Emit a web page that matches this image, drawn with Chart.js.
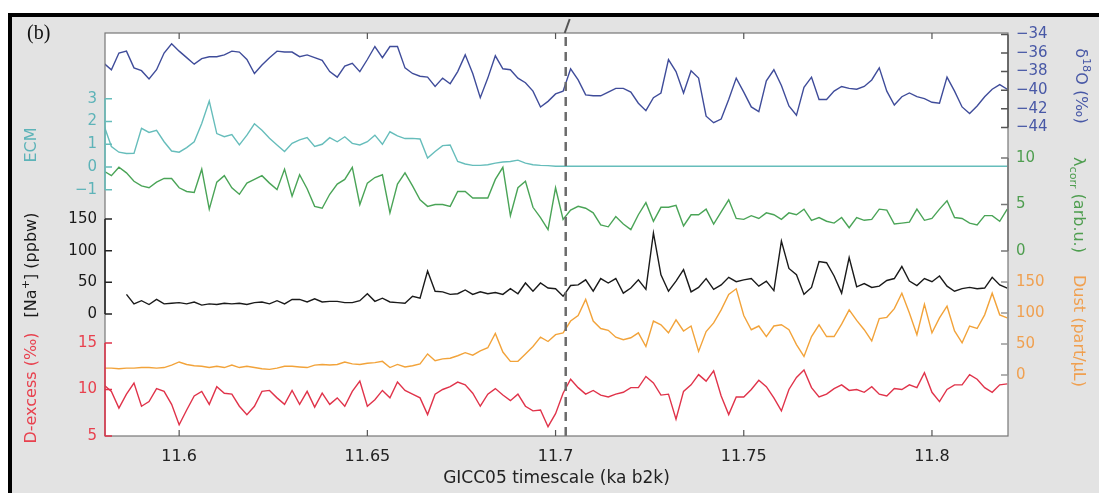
<!DOCTYPE html>
<html>
<head>
<meta charset="utf-8">
<script src="https://cdn.jsdelivr.net/npm/chart.js@4.4.1/dist/chart.umd.min.js"></script>
<style>
  html, body { margin: 0; padding: 0; background: #fff; }
  canvas { display: block; }
</style>
</head>
<body>
<canvas id="coreChart" width="1099" height="493"></canvas>
<script>
// time grid (ka b2k), every series sampled on the same spacing
const startTime = 11.58;
const timeStep = 0.002;
const onsetTime = 11.7027;

const xTickValues = [11.6, 11.65, 11.7, 11.75, 11.8];
const xTickLabels = ['11.6', '11.65', '11.7', '11.75', '11.8'];

const d18oTicks = [-34, -36, -38, -40, -42, -44];
const ecmTicks = [3, 2, 1, 0, -1];
const lambdaTicks = [10, 5, 0];
const naTicks = [150, 100, 50, 0];
const dustTicks = [150, 100, 50, 0];
const dexTicks = [15, 10, 5];

const d18oValues = [
  -37.1, -37.8, -36.0, -35.8, -37.6, -37.9, -38.8, -37.8, -36.0, -35.0, -35.8, -36.5, -37.2, -36.6, -36.4, -36.4, -36.2, -35.8, -35.9, -36.7, -38.2,
  -37.3, -36.5, -35.8, -35.9, -35.9, -36.4, -36.2, -36.5, -36.8, -38.0, -38.6, -37.4, -37.1, -38.0, -36.7, -35.3, -36.5, -35.3, -35.3, -37.6,
  -38.2, -38.5, -38.6, -39.6, -38.7, -39.3, -38.0, -36.2, -38.2, -40.8, -38.7, -36.3, -37.7, -37.8, -38.7, -39.2, -40.1, -41.8, -41.2, -40.4,
  -40.1, -37.7, -38.9, -40.5, -40.6, -40.6, -40.2, -39.8, -39.8, -40.2, -41.4, -42.2, -40.8, -40.3, -36.7, -38.0, -40.3, -37.9, -38.7, -42.8,
  -43.5, -43.1, -41.0, -38.7, -40.2, -41.8, -42.3, -39.0, -37.8, -39.5, -41.7, -42.7, -39.7, -38.6, -41.0, -41.0, -40.1, -39.6, -39.8, -39.9,
  -39.6, -38.9, -37.6, -40.1, -41.6, -40.7, -40.3, -40.7, -40.9, -41.3, -41.4, -38.6, -40.1, -41.8, -42.5, -41.7, -40.7, -39.9, -39.4, -39.9
];

const ecmValues = [
  1.84, 0.9, 0.65, 0.59, 0.6, 1.7, 1.52, 1.61, 1.11, 0.7, 0.65, 0.85, 1.11, 1.91, 2.9, 1.47, 1.33, 1.43, 0.97, 1.4, 1.9,
  1.62, 1.26, 0.97, 0.68, 1.04, 1.19, 1.29, 0.9, 1.0, 1.29, 1.11, 1.33, 1.04, 0.97, 1.11, 1.4, 1.0, 1.55, 1.37, 1.25,
  1.26, 1.23, 0.39, 0.68, 0.94, 0.97, 0.24, 0.13, 0.07, 0.07, 0.1, 0.17, 0.22, 0.24, 0.3, 0.17, 0.1, 0.07, 0.06, 0.03,
  0.03, 0.03, 0.03, 0.03, 0.03, 0.03, 0.03, 0.03, 0.03, 0.03, 0.03, 0.03, 0.03, 0.03, 0.03, 0.03, 0.03, 0.03, 0.03, 0.03,
  0.03, 0.03, 0.03, 0.03, 0.03, 0.03, 0.03, 0.03, 0.03, 0.03, 0.03, 0.03, 0.03, 0.03, 0.03, 0.03, 0.03, 0.03, 0.03, 0.03,
  0.03, 0.03, 0.03, 0.03, 0.03, 0.03, 0.03, 0.03, 0.03, 0.03, 0.03, 0.03, 0.03, 0.03, 0.03, 0.03, 0.03, 0.03, 0.03, 0.03
];

const lambdaValues = [
  8.6, 8.1, 9.0, 8.4, 7.5, 7.0, 6.8, 7.4, 7.8, 7.8, 6.8, 6.4, 6.3, 8.8, 4.5, 7.4, 8.1, 6.8, 6.1, 7.3, 7.7,
  8.1, 7.3, 6.6, 8.8, 5.9, 8.2, 6.7, 4.8, 4.6, 6.1, 7.2, 7.7, 9.0, 5.0, 7.3, 7.9, 8.2, 4.1, 7.2, 8.4,
  7.0, 5.5, 4.8, 5.0, 5.0, 4.8, 6.4, 6.4, 5.7, 5.7, 5.7, 7.7, 9.0, 3.8, 6.8, 7.5, 4.7, 3.6, 2.3, 6.8,
  3.4, 4.4, 4.8, 4.6, 4.1, 2.8, 2.6, 3.7, 2.9, 2.3, 3.9, 5.2, 3.2, 4.7, 4.7, 4.9, 2.7, 3.9, 3.9, 4.5,
  2.9, 4.2, 5.5, 3.5, 3.4, 3.8, 3.5, 4.1, 3.9, 3.4, 4.1, 3.9, 4.5, 3.3, 3.6, 3.2, 3.0, 3.6, 2.5, 3.6,
  3.3, 3.4, 4.5, 4.4, 2.9, 3.0, 3.1, 4.5, 3.3, 3.5, 4.5, 5.4, 3.6, 3.5, 3.0, 2.8, 3.8, 3.8, 3.2, 4.5
];

const naValues = [
  null, null, null, 31, 16, 21, 15, 23, 16, 17, 18, 16, 19, 14, 16, 15, 17, 16, 17, 15, 18,
  19, 16, 21, 16, 23, 23, 19, 24, 19, 20, 20, 18, 18, 21, 32, 20, 25, 19, 18, 17,
  28, 25, 68, 36, 35, 31, 32, 38, 31, 35, 32, 34, 31, 40, 32, 49, 36, 49, 41, 40,
  28, 45, 46, 54, 36, 56, 49, 56, 33, 41, 54, 39, 128, 62, 36, 52, 70, 35, 42, 56,
  39, 46, 58, 51, 54, 56, 44, 52, 37, 115, 72, 62, 31, 42, 83, 81, 60, 33, 89, 43,
  48, 42, 44, 53, 56, 75, 52, 45, 56, 51, 60, 44, 36, 40, 42, 40, 41, 58, 46, 41
];

const dustValues = [
  11, 11, 10, 11, 11, 12, 12, 11, 12, 16, 21, 17, 15, 14, 12, 14, 12, 16, 12, 14, 12,
  10, 9, 11, 14, 14, 13, 12, 16, 17, 16, 17, 21, 18, 17, 19, 20, 22, 12, 17, 13,
  15, 18, 34, 23, 26, 27, 31, 36, 32, 39, 44, 67, 37, 22, 22, 34, 46, 61, 54, 65,
  68, 87, 96, 122, 87, 75, 72, 61, 57, 60, 68, 46, 87, 81, 68, 89, 71, 79, 38, 70,
  84, 105, 130, 139, 96, 73, 79, 62, 79, 81, 73, 49, 30, 62, 81, 62, 62, 82, 105, 88,
  73, 55, 91, 93, 107, 132, 100, 65, 114, 68, 92, 111, 71, 52, 79, 75, 97, 132, 97, 92
];

const dexValues = [
  10.5, 9.8, 8.0, 9.5, 10.7, 8.2, 8.7, 10.1, 9.8, 8.4, 6.2, 7.8, 9.3, 9.8, 8.4, 10.3, 9.6, 9.5, 8.2, 7.3, 8.2,
  9.8, 9.9, 9.1, 8.4, 9.9, 8.4, 9.8, 8.1, 9.6, 8.4, 9.1, 8.2, 9.8, 10.9, 8.2, 8.9, 9.9, 9.1, 10.8, 9.9,
  9.5, 9.1, 7.3, 9.5, 10.0, 10.3, 10.8, 10.5, 9.6, 8.2, 9.5, 10.1, 9.4, 8.8, 9.5, 8.2, 7.7, 7.8, 6.0, 7.4,
  9.6, 11.1, 10.2, 9.5, 9.9, 9.4, 9.2, 9.5, 9.7, 10.2, 10.2, 11.4, 10.7, 9.4, 9.5, 6.8, 9.8, 10.5, 11.6, 10.9,
  12.0, 9.3, 7.3, 9.2, 9.2, 10.0, 11.0, 10.3, 9.1, 7.7, 10.0, 11.3, 12.1, 10.2, 9.2, 9.5, 10.1, 10.5, 9.9, 10.0,
  9.7, 10.3, 9.5, 9.3, 10.1, 10.0, 10.5, 10.2, 11.8, 9.7, 8.7, 10.0, 10.5, 10.5, 11.6, 11.1, 10.2, 9.7, 10.5, 10.6
];

const colors = {
  d18o: '#3f4c9a', ecm: '#66bdbb', lambda: '#4aa457', na: '#1a1a1a', dust: '#f2a33a', dex: '#e0334a'
};
const textColors = {
  d18o: '#4858a6', ecm: '#5db3b8', lambda: '#4f9e50', na: '#1a1a1a', dust: '#f0a050', dex: '#e8414e'
};

function toPoints(values) {
  return values.map((v, i) => ({ x: startTime + i * timeStep, y: v }));
}

function series(values, axis, color) {
  return {
    data: toPoints(values),
    yAxisID: axis,
    borderColor: color,
    borderWidth: 1.4,
    pointRadius: 0,
    tension: 0,
    fill: false
  };
}

function fmt(v) {
  return v < 0 ? '\u2212' + Math.abs(v) : String(v);
}

function drawRich(ctx, parts, x, y, rot, color) {
  const base = 16;
  ctx.save();
  ctx.translate(x, y);
  ctx.rotate(rot);
  ctx.fillStyle = color;
  ctx.textBaseline = 'middle';
  ctx.textAlign = 'left';
  let total = 0;
  const sized = parts.map(p => {
    const size = p.s ? base * 0.7 : base;
    ctx.font = size + 'px "DejaVu Sans"';
    const w = ctx.measureText(p.t).width;
    total += w;
    return { ...p, size, w };
  });
  let cx = -total / 2;
  sized.forEach(p => {
    ctx.font = p.size + 'px "DejaVu Sans"';
    const dy = p.s === 'sup' ? -base * 0.38 : p.s === 'sub' ? base * 0.3 : 0;
    ctx.fillText(p.t, cx, dy);
    cx += p.w;
  });
  ctx.restore();
}

function drawAxis(ctx, scale, ticks, x, dir, lineColor, labelColor) {
  const yA = scale.getPixelForValue(ticks[0]);
  const yB = scale.getPixelForValue(ticks[ticks.length - 1]);
  ctx.strokeStyle = lineColor;
  ctx.lineWidth = 1.5;
  ctx.beginPath();
  ctx.moveTo(x, yA);
  ctx.lineTo(x, yB);
  ticks.forEach(v => {
    const y = scale.getPixelForValue(v);
    ctx.moveTo(x, y);
    ctx.lineTo(x + dir * 7, y);
  });
  ctx.stroke();
  ctx.fillStyle = labelColor;
  ctx.font = '15px "DejaVu Sans"';
  ctx.textBaseline = 'middle';
  ctx.textAlign = dir > 0 ? 'right' : 'left';
  ticks.forEach(v => {
    ctx.fillText(fmt(v), x - dir * 8, scale.getPixelForValue(v));
  });
}

const framePlugin = {
  id: 'frame',
  beforeDraw(chart) {
    const { ctx, width, height, chartArea: a } = chart;
    ctx.save();
    ctx.fillStyle = '#fff';
    ctx.fillRect(0, 0, width, height);
    ctx.fillStyle = '#000';
    ctx.fillRect(8, 13, width - 8, height - 13);
    ctx.fillStyle = '#e3e3e3';
    ctx.fillRect(12, 17, width - 12, height - 17);
    ctx.fillStyle = '#fff';
    ctx.fillRect(a.left, a.top, a.right - a.left, a.bottom - a.top);
    ctx.restore();
  },
  afterDraw(chart) {
    const { ctx, chartArea: a, scales } = chart;
    ctx.save();
    // plot box
    ctx.strokeStyle = '#777';
    ctx.lineWidth = 1.2;
    ctx.strokeRect(a.left, a.top, a.right - a.left, a.bottom - a.top);

    // time ticks, top and bottom, pointing inward
    ctx.beginPath();
    xTickValues.forEach(v => {
      const px = scales.x.getPixelForValue(v);
      ctx.moveTo(px, a.bottom);
      ctx.lineTo(px, a.bottom - 6);
      ctx.moveTo(px, a.top);
      ctx.lineTo(px, a.top + 6);
    });
    ctx.strokeStyle = '#555';
    ctx.stroke();

    drawAxis(ctx, scales.yEcm, ecmTicks, a.left, 1, colors.ecm, textColors.ecm);
    drawAxis(ctx, scales.yNa, naTicks, a.left, 1, '#222', textColors.na);
    drawAxis(ctx, scales.yDex, dexTicks, a.left, 1, colors.dex, textColors.dex);
    drawAxis(ctx, scales.yD18o, d18oTicks, a.right, -1, '#555', textColors.d18o);
    drawAxis(ctx, scales.yLambda, lambdaTicks, a.right, -1, '#777', textColors.lambda);
    drawAxis(ctx, scales.yDust, dustTicks, a.right, -1, '#999', textColors.dust);

    // axis titles
    drawRich(ctx, [{ t: 'ECM' }], 32, 145, -Math.PI / 2, textColors.ecm);
    drawRich(ctx, [{ t: '[Na' }, { t: '+', s: 'sup' }, { t: '] (ppbw)' }], 32, 265, -Math.PI / 2, textColors.na);
    drawRich(ctx, [{ t: 'D-excess (\u2030)' }], 32, 388, -Math.PI / 2, textColors.dex);
    drawRich(ctx, [{ t: '\u03b4' }, { t: '18', s: 'sup' }, { t: 'O (\u2030)' }], 1080, 86, Math.PI / 2, textColors.d18o);
    drawRich(ctx, [{ t: '\u03bb' }, { t: 'corr', s: 'sub' }, { t: ' (arb.u.)' }], 1078, 205, Math.PI / 2, textColors.lambda);
    drawRich(ctx, [{ t: 'Dust (part/\u00b5L)' }], 1078, 331, Math.PI / 2, textColors.dust);

    // panel letter
    ctx.fillStyle = '#111';
    ctx.font = '20px "Liberation Serif"';
    ctx.textAlign = 'left';
    ctx.textBaseline = 'middle';
    ctx.fillText('(b)', 27, 34);

    // onset marker sticking out above the box
    const ox = scales.x.getPixelForValue(onsetTime);
    ctx.strokeStyle = '#555';
    ctx.lineWidth = 2;
    ctx.beginPath();
    ctx.moveTo(ox - 1, a.top);
    ctx.lineTo(ox + 4, a.top - 14);
    ctx.stroke();
    ctx.restore();
  }
};

function hiddenAxis(min, max) {
  return { display: false, min: min, max: max, bounds: 'data' };
}

const ctx = document.getElementById('coreChart').getContext('2d');
new Chart(ctx, {
  type: 'line',
  data: {
    datasets: [
      {
        data: [{ x: onsetTime, y: 0 }, { x: onsetTime, y: 1 }],
        yAxisID: 'yFrame',
        borderColor: '#6b6b6b',
        borderWidth: 2.5,
        borderDash: [9, 6],
        pointRadius: 0
      },
      series(naValues, 'yNa', colors.na),
      series(d18oValues, 'yD18o', colors.d18o),
      series(ecmValues, 'yEcm', colors.ecm),
      series(lambdaValues, 'yLambda', colors.lambda),
      series(dustValues, 'yDust', colors.dust),
      series(dexValues, 'yDex', colors.dex)
    ]
  },
  options: {
    responsive: false,
    devicePixelRatio: 1,
    animation: false,
    layout: { padding: { left: 105, right: 91, top: 33, bottom: 0 } },
    plugins: {
      legend: { display: false },
      tooltip: { enabled: false }
    },
    scales: {
      x: {
        type: 'linear',
        min: 11.5803,
        max: 11.8202,
        bounds: 'data',
        grid: { display: false, drawTicks: false },
        border: { display: false },
        afterBuildTicks: (scale) => {
          scale.ticks = xTickValues.map(v => ({ value: v }));
        },
        afterFit: (scale) => { scale.height = 57; },
        ticks: {
          autoSkip: false,
          maxRotation: 0,
          padding: 11,
          color: '#222',
          font: { family: 'DejaVu Sans', size: 16 },
          callback: (value, index) => xTickLabels[index]
        },
        title: {
          display: true,
          text: 'GICC05 timescale (ka b2k)',
          color: '#222',
          font: { family: 'DejaVu Sans', size: 17 },
          padding: { top: 0, bottom: 4 }
        }
      },
      yD18o: hiddenAxis(-77.18, -33.85),
      yEcm: hiddenAxis(-11.85, 5.90),
      yLambda: hiddenAxis(-19.89, 23.44),
      yNa: hiddenAxis(-192.6, 443.7),
      yDust: hiddenAxis(-98.4, 551.6),
      yDex: hiddenAxis(5, 48.33),
      yFrame: hiddenAxis(0, 1)
    }
  },
  plugins: [framePlugin]
});
</script>
</body>
</html>
